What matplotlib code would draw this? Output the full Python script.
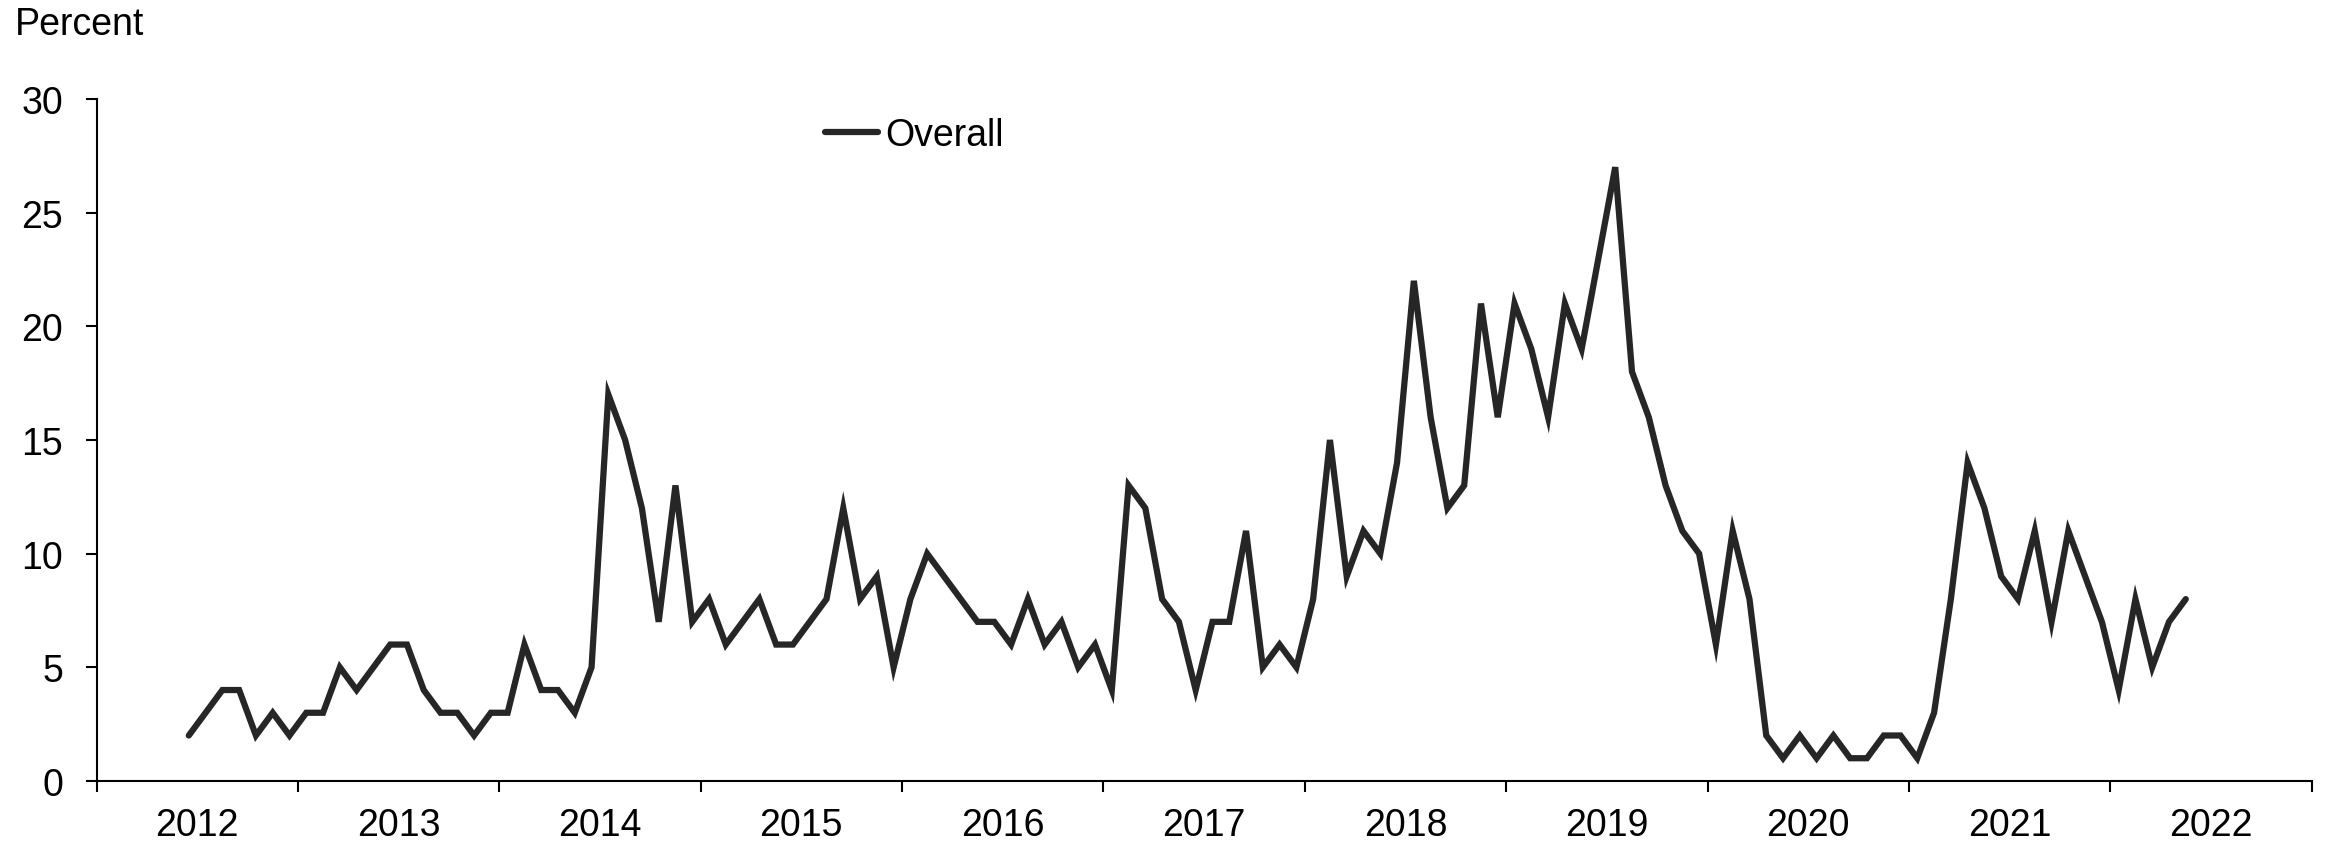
import numpy as np
import matplotlib
matplotlib.use("Agg")
import matplotlib.pyplot as plt

plt.rcParams['font.family'] = ['Liberation Sans', 'DejaVu Sans']

# monthly values, Jun 2012 - May 2022
start_year = 2012
start_month = 6
overall = [
    2, 3, 4, 4, 2, 3, 2,                          # 2012 (Jun-Dec)
    3, 3, 5, 4, 5, 6, 6, 4, 3, 3, 2, 3,           # 2013
    3, 6, 4, 4, 3, 5, 17, 15, 12, 7, 13, 7,       # 2014
    8, 6, 7, 8, 6, 6, 7, 8, 12, 8, 9, 5,          # 2015
    8, 10, 9, 8, 7, 7, 6, 8, 6, 7, 5, 6,          # 2016
    4, 13, 12, 8, 7, 4, 7, 7, 11, 5, 6, 5,        # 2017
    8, 15, 9, 11, 10, 14, 22, 16, 12, 13, 21, 16, # 2018
    21, 19, 16, 21, 19, 23, 27, 18, 16, 13, 11, 10,  # 2019
    6, 11, 8, 2, 1, 2, 1, 2, 1, 1, 2, 2,          # 2020
    1, 3, 8, 14, 12, 9, 8, 11, 7, 11, 9, 7,       # 2021
    4, 8, 5, 7, 8,                                # 2022 (Jan-May)
]
years = list(range(2012, 2023))
y_ticks = [0, 5, 10, 15, 20, 25, 30]

idx = np.arange(len(overall)) + (start_month - 1)
x = start_year + (idx + 0.5) / 12

fig = plt.figure(figsize=(23.31, 8.45), dpi=100)
ax = fig.add_axes([0.0414, 0.0746, 0.9503, 0.8071])

ax.plot(x, overall, color='#262626', lw=4.5, solid_capstyle='round',
        solid_joinstyle='miter', label='Overall')

ax.set_xlim(years[0], years[-1] + 1)
ax.set_ylim(0, 30)
ax.set_yticks(y_ticks)

# year boundaries as major ticks, labels centered in between
ax.set_xticks(years + [years[-1] + 1])
ax.set_xticklabels([])
ax.set_xticks([yr + 0.5 for yr in years], minor=True)
ax.set_xticklabels([str(yr) for yr in years], minor=True)

ax.tick_params(axis='x', which='major', direction='out', length=8, width=1.5)
ax.tick_params(axis='x', which='minor', length=0, pad=19, labelsize=27)
ax.tick_params(axis='y', direction='out', length=8, width=1.5, pad=16, labelsize=27)

for side in ['top', 'right']:
    ax.spines[side].set_visible(False)
for side in ['left', 'bottom']:
    ax.spines[side].set_linewidth(1.5)

fig.text(15 / 2331, 1 - 25 / 845, 'Percent', fontsize=27, va='center', ha='left')

ax.legend(loc='center left', bbox_to_anchor=(825 / 2331, 1 - 136 / 845),
          bbox_transform=fig.transFigure, frameon=False, fontsize=27,
          handlelength=1.4, handletextpad=0.2, borderpad=0, borderaxespad=0)

fig.savefig('out.png', dpi=100)
